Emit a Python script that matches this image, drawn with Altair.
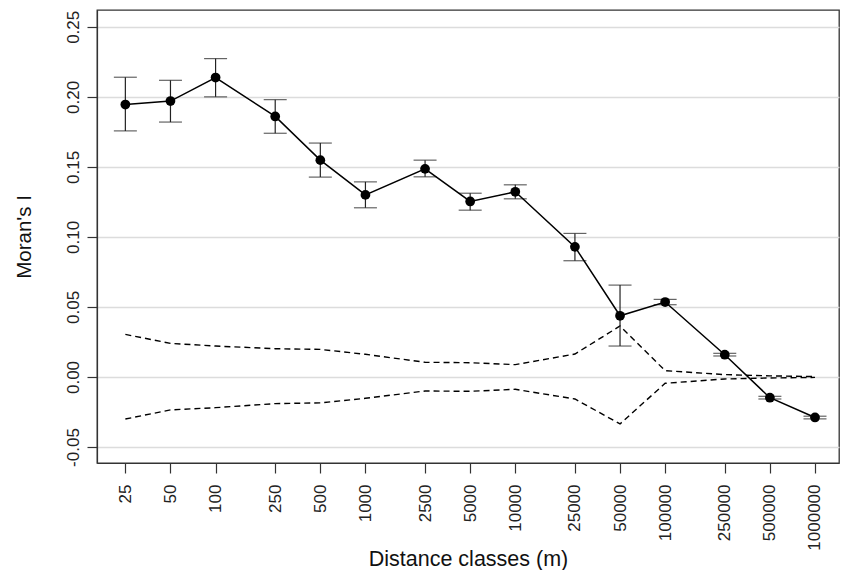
import altair as alt
import pandas as pd

# Distance classes (m)
distance = [25, 50, 100, 250, 500, 1000, 2500, 5000, 10000, 25000,
            50000, 100000, 250000, 500000, 1000000]
# Moran's I per class
moran_i = [0.1945, 0.197, 0.2138, 0.186, 0.1548, 0.130, 0.1486, 0.1253, 0.1322,
           0.0929, 0.0437, 0.0535, 0.0159, -0.0148, -0.0289]
# error bar limits
err_low = [0.1757, 0.182, 0.200, 0.174, 0.1427, 0.1208, 0.1429, 0.1191, 0.1272,
           0.083, 0.0221, 0.0516, 0.0150, -0.0157, -0.0299]
err_high = [0.214, 0.2118, 0.2273, 0.198, 0.167, 0.1393, 0.1548, 0.1312, 0.1372,
            0.1025, 0.0656, 0.0554, 0.0169, -0.0138, -0.0280]
# null envelope (dashed)
env_upper = [0.0304, 0.024, 0.0221, 0.0202, 0.0197, 0.0162, 0.0105, 0.0102, 0.0088,
             0.0164, 0.0364, 0.0045, 0.0017, 0.0008, 0.0003]
env_lower = [-0.030, -0.0235, -0.0219, -0.019, -0.0185, -0.0152, -0.010, -0.0102, -0.0088,
             -0.0157, -0.0335, -0.0045, -0.0014, -0.0007, -0.0003]

y_ticks = [-0.05, 0.0, 0.05, 0.10, 0.15, 0.20, 0.25]

df = pd.DataFrame({"d": distance, "I": moran_i, "lo": err_low, "hi": err_high})
env = pd.DataFrame({
    "d": distance + distance,
    "v": env_upper + env_lower,
    "s": ["upper"] * len(distance) + ["lower"] * len(distance),
})

FONT = "Liberation Sans"
xscale = alt.Scale(type="log", domain=[16.17, 1446000], nice=False)
yscale = alt.Scale(domain=[-0.0614, 0.262], nice=False, zero=False)

xaxis = alt.Axis(values=distance, format="d", labelAngle=-90, labelAlign="right",
                 labelBaseline="middle", labelPadding=11, grid=False,
                 title="Distance classes (m)", titleY=102, titleBaseline="alphabetic",
                 titleFontSize=21.5)
yaxis = alt.Axis(values=y_ticks, labelAngle=-90, labelAlign="center",
                 labelExpr="datum.value < 0 ? '-' + format(-datum.value, '.2f') : format(datum.value, '.2f')",
                 labelBaseline="bottom", labelPadding=5, grid=True,
                 title="Moran's I", titleX=-67, titleBaseline="alphabetic",
                 titleFontSize=20.5)

base = alt.Chart(df)
x = alt.X("d:Q", scale=xscale, axis=xaxis)

envelope = alt.Chart(env).mark_line(color="black", strokeDash=[6, 4], strokeWidth=1.4).encode(
    x=x, y=alt.Y("v:Q", scale=yscale, axis=yaxis), detail="s:N")
rules = base.mark_rule(color="#222", strokeWidth=1.2).encode(
    x=x, y=alt.Y("lo:Q", scale=yscale, axis=yaxis), y2="hi:Q")
cap_lo = base.mark_tick(orient="horizontal", size=23, thickness=1.2, color="#222").encode(
    x=x, y=alt.Y("lo:Q", scale=yscale, axis=yaxis))
cap_hi = base.mark_tick(orient="horizontal", size=23, thickness=1.2, color="#222").encode(
    x=x, y=alt.Y("hi:Q", scale=yscale, axis=yaxis))
line = base.mark_line(color="black", strokeWidth=1.5).encode(
    x=x, y=alt.Y("I:Q", scale=yscale, axis=yaxis))
points = base.mark_circle(color="black", size=95, opacity=1).encode(
    x=x, y=alt.Y("I:Q", scale=yscale, axis=yaxis))

chart = alt.layer(envelope, rules, cap_lo, cap_hi, line, points).properties(
    width=742, height=453,
    autosize=alt.AutoSizeParams(type="none"),
    padding={"left": 89, "top": 2, "right": 1, "bottom": 107},
    background="white",
).configure_view(
    stroke="#333", strokeWidth=1.3
).configure_axis(
    labelFont=FONT, labelFontSize=17, labelColor="#222",
    titleFont=FONT, titleFontWeight="normal", titleColor="#111",
    tickSize=10, tickColor="#333", tickWidth=1.2,
    domainColor="#333", domainWidth=1.2,
    gridColor="#dcdcdc", gridWidth=1.5,
)

chart.save("out.html", embed_options={"renderer": "svg", "actions": False})
